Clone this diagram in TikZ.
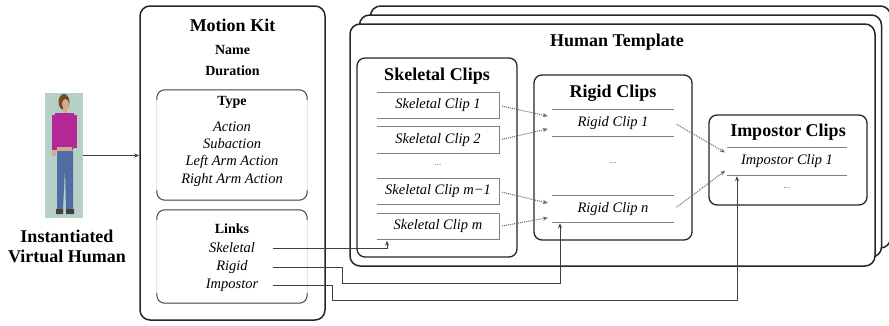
\documentclass[tikz,border=0pt]{standalone}
\usepackage{fontspec}
\setmainfont{Liberation Serif}
\usetikzlibrary{arrows.meta,shapes}
\definecolor{backdrop}{RGB}{182,208,200}
\definecolor{shirt}{RGB}{178,40,150}
\definecolor{jeans}{RGB}{80,108,165}
\definecolor{skin}{RGB}{214,168,140}

\begin{document}
\begin{tikzpicture}[x=1pt,y=-1pt,
  frame/.style={draw=black!85,fill=white,line width=1.5pt,rounded corners=10pt,inner sep=0pt},
  clipbox/.style={draw=black!85,fill=white,line width=1.3pt,rounded corners=8pt,inner sep=0pt},
  title/.style={font=\bfseries\fontsize{18}{20}\selectfont},
  head/.style={font=\bfseries\fontsize{14}{15}\selectfont},
  item/.style={font=\itshape\fontsize{14.5}{16}\selectfont},
  row/.style={inner sep=0pt,minimum height=26pt,font=\itshape\fontsize{14.5}{16}\selectfont},
  more/.style={font=\fontsize{9}{10}\selectfont,text=black!60},
  rowline/.style={draw=black!50,line width=0.8pt},
  dotarr/.style={black!60,densely dotted,line width=1pt,shorten <=3pt,-{Stealth[length=5pt,width=4pt]}},
  link/.style={black!75,line width=0.8pt,-{Stealth[length=5pt,width=4pt]}}]
\useasboundingbox (0,0) rectangle (889,325);

% virtual human
\node[fill=backdrop,minimum width=38pt,minimum height=125pt,inner sep=0pt] (pic) at (64,155.5) {};
\fill[brown!60!black] (64,102) ellipse [x radius=5.5,y radius=8];
\fill[skin] (65.5,104) ellipse [x radius=3.5,y radius=5];
\fill[skin] (63,108) rectangle (67,114);
\fill[shirt] (55,113) -- (74,113) -- (76,140) -- (73,150) -- (56,150) -- (54,140) -- cycle;
\fill[shirt] (52,115) rectangle (56,150);
\fill[shirt] (74,115) rectangle (77,148);
\fill[skin] (52,150) rectangle (56,156) (57,147) rectangle (72,152);
\fill[jeans] (57,151) -- (73,151) -- (73,210) -- (66,210) -- (65,168) -- (63,210) -- (57,210) -- cycle;
\fill[black!75] (56,209) rectangle (63,214) (66,209) rectangle (74,214);
\node[title,align=center] (vh) at (67,246) {Instantiated\\Virtual Human};

% motion kit
\node[frame,minimum width=185pt,minimum height=314pt] (kit) at (232.5,163) {};
\node[title] (kitt) at (232.5,25) {Motion Kit};
\node[head] (name) at (232.5,50) {Name};
\node[head] (dur) at (232.5,71) {Duration};
\node[minimum width=150pt,minimum height=110pt,inner sep=0pt] (type) at (232,145) {};
\node[minimum width=150pt,minimum height=93pt,inner sep=0pt] (links) at (232,256.5) {};
\foreach \b in {type,links}{
  \draw[black!15,line width=0.8pt,rounded corners=8pt] (\b.north west) rectangle (\b.south east);
  \draw[black!70,line width=1pt,rounded corners=8pt] ([yshift=-10pt]\b.north west) -- (\b.north west) -- (\b.north east) -- ([yshift=-10pt]\b.north east);
  \draw[black!70,line width=1pt,rounded corners=8pt] ([yshift=10pt]\b.south west) -- (\b.south west) -- (\b.south east) -- ([yshift=10pt]\b.south east);
}
\node[head] (typet) at (232,102) {Type};
\node[item] (act) at (232,127) {Action};
\node[item] (sub) at (232,144) {Subaction};
\node[item] (laa) at (232,162) {Left Arm Action};
\node[item] (raa) at (232,180) {Right Arm Action};
\node[head] (linkst) at (232,229) {Links};
\node[item] (lsk) at (232,248) {Skeletal};
\node[item] (lrg) at (232,267) {Rigid};
\node[item] (lim) at (232,285) {Impostor};

% human template, stacked
\node[frame,minimum width=520pt,minimum height=242pt] (ht3) at (630.5,127) {};
\node[frame,minimum width=522pt,minimum height=242pt] (ht2) at (620.5,136) {};
\node[frame,minimum width=525pt,minimum height=242pt] (ht) at (612.5,145) {};
\node[title] (htt) at (617,42) {Human Template};

% skeletal clips
\node[clipbox,minimum width=160pt,minimum height=199pt] (skel) at (437,157.5) {};
\node[title] (skelt) at (437,76) {Skeletal Clips};
\node[row,minimum width=122pt] (sk1) at (438,105.5) {Skeletal Clip 1};
\node[row,minimum width=122pt] (sk2) at (438,140) {Skeletal Clip 2};
\node[more] (skd) at (438,165) {...};
\node[row,minimum width=122pt] (skm1) at (438,191.5) {Skeletal Clip m−1};
\node[row,minimum width=122pt] (skm) at (438,226.5) {Skeletal Clip m};
\foreach \r in {sk1,sk2,skm1,skm}
  \draw[rowline] (\r.north west) -- (\r.north east) -- (\r.south east) -- (\r.south west);

% rigid clips
\node[clipbox,minimum width=158pt,minimum height=165pt] (rig) at (613,157.5) {};
\node[title] (rigt) at (613,93) {Rigid Clips};
\node[row,minimum width=122pt] (rg1) at (613,123) {Rigid Clip 1};
\node[more] (rgd) at (613,163) {...};
\node[row,minimum width=122pt] (rgn) at (613,209) {Rigid Clip n};
\foreach \r in {rg1,rgn}
  \draw[rowline] (\r.north west) -- (\r.north east) (\r.south west) -- (\r.south east);

% impostor clips
\node[clipbox,minimum width=158pt,minimum height=90pt] (imp) at (788,160) {};
\node[title] (impt) at (788,132) {Impostor Clips};
\node[row,minimum width=120pt,minimum height=27pt] (im1) at (787,161.5) {Impostor Clip 1};
\node[more] (imd) at (787,188) {...};
\draw[rowline] (im1.north west) -- (im1.north east) (im1.south west) -- (im1.south east);

% clip to clip
\draw[dotarr,shorten >=4pt] (sk1.east) -- ([yshift=6pt]rg1.west);
\draw[dotarr,shorten >=4pt] (sk2.east) -- ([yshift=-5pt]rg1.west);
\draw[dotarr,shorten >=4pt] (skm1.east) -- ([yshift=5pt]rgn.west);
\draw[dotarr,shorten >=4pt] (skm.east) -- ([yshift=-8pt]rgn.west);
\draw[dotarr,shorten >=2pt] (rg1.east) -- ([yshift=8pt]im1.west);
\draw[dotarr,shorten >=2pt] (rgn.east) -- ([yshift=-8pt]im1.west);

% links
\draw[link] (pic.east) -- (pic.east -| kit.west);
\draw[link,shorten >=1pt] ([xshift=-34pt]links.east |- lsk) -| ([xshift=-51pt]skm.south);
\draw[link,shorten >=1pt] ([xshift=-34pt]links.east |- lrg) -- ++(69,0) -- ++(0,16) -| ([xshift=-53pt]rgn.south);
\draw[link,shorten >=1pt] ([xshift=-34pt]links.east |- lim) -- ++(59,0) -- ++(0,15) -| ([xshift=-50pt]im1.south);
\end{tikzpicture}
\end{document}
